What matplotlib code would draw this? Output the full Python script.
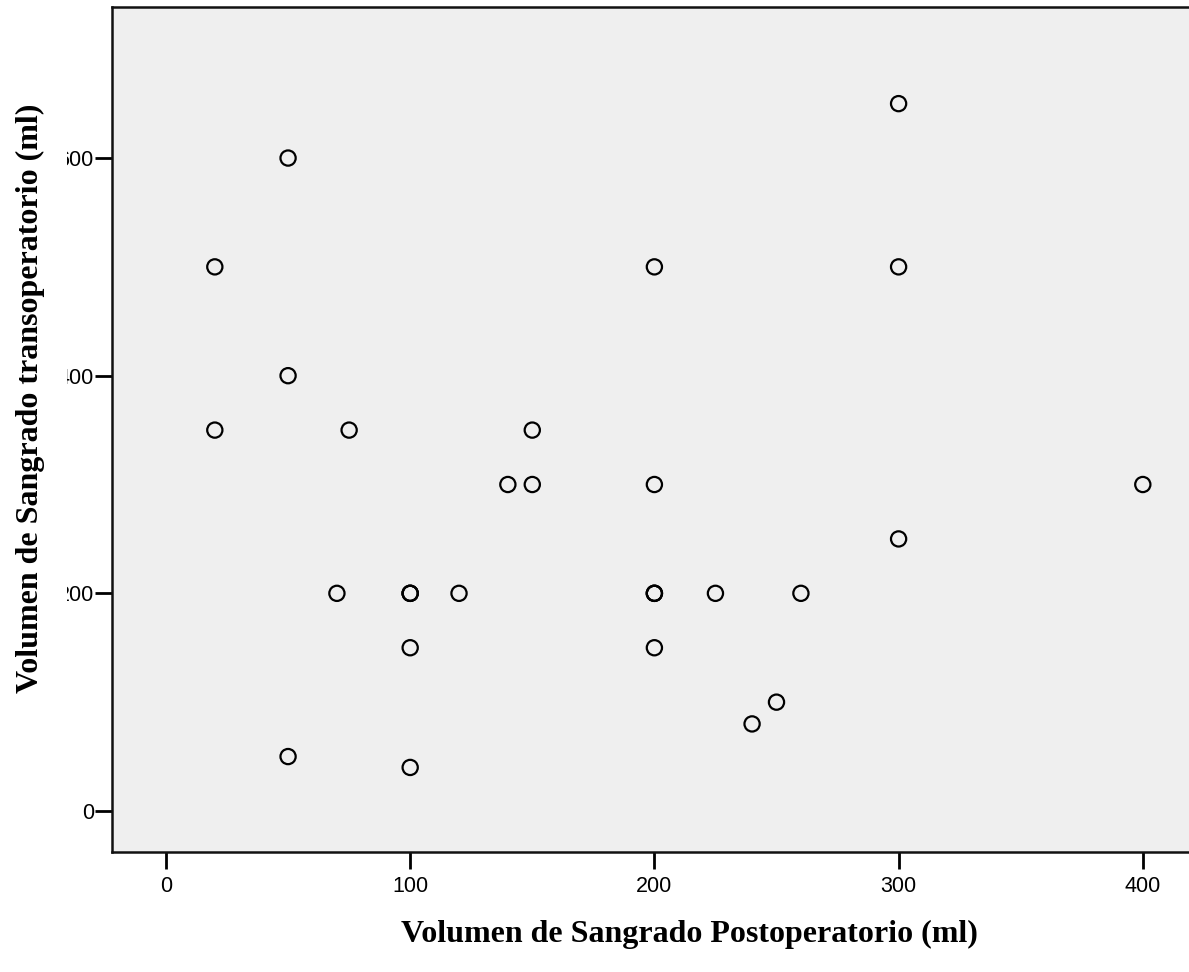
import matplotlib
matplotlib.use("Agg")
import matplotlib.pyplot as plt
from matplotlib.transforms import Bbox

# Postoperative (x) vs. intraoperative (y) bleeding volume, ml
postop = [300, 50, 20, 200, 300, 50, 20, 75, 150, 140, 150, 200, 400, 300,
          70, 100, 100, 100, 120, 200, 200, 200, 225, 260, 100, 200, 250, 240,
          50, 100]
transop = [650, 600, 500, 500, 500, 400, 350, 350, 350, 300, 300, 300, 300, 250,
           200, 200, 200, 200, 200, 200, 200, 200, 200, 200, 150, 150, 100, 80,
           50, 40]

x_ticks = [0, 100, 200, 300, 400]
y_ticks = [0, 200, 400, 600]

W, H = 1189, 972
fig = plt.figure(figsize=(W / 100, H / 100), dpi=100)
fig.patch.set_facecolor("white")

left_px, right_px, top_px, bottom_px = 112, 1219, 7, 852
ax = fig.add_axes([left_px / W, (H - bottom_px) / H,
                   (right_px - left_px) / W, (bottom_px - top_px) / H])
ax.set_facecolor("#efefef")

ax.scatter(postop, transop, s=120, facecolors="none", edgecolors="black",
           linewidths=1.6, zorder=3)

ax.set_xlim(-22.1, 431.2)
ax.set_ylim(-37.7, 738.8)
ax.set_xticks(x_ticks)
ax.set_yticks(y_ticks)
ax.set_xticklabels([str(v) for v in x_ticks], family="Liberation Sans", fontsize=15.5)
ax.set_yticklabels([str(v) for v in y_ticks], family="Liberation Sans", fontsize=15.5)
ax.tick_params(axis="both", direction="out", length=12, width=2, color="black")
ax.tick_params(axis="x", pad=5)
ax.tick_params(axis="y", pad=1)

for side in ("left", "bottom", "top", "right"):
    ax.spines[side].set_linewidth(1.8)
    ax.spines[side].set_color("#111111")

ax.set_xlabel("Volumen de Sangrado Postoperatorio (ml)", family="Liberation Serif",
              fontweight="bold", fontsize=23)
ax.set_ylabel("Volumen de Sangrado transoperatorio (ml)", family="Liberation Serif",
              fontweight="bold", fontsize=23)
ax.xaxis.set_label_coords((689 - left_px) / (right_px - left_px),
                          -(920 - bottom_px) / (bottom_px - top_px))
ax.yaxis.set_label_coords(-(112 - 45) / (right_px - left_px),
                          (bottom_px - 398) / (bottom_px - top_px))

# Tick labels on the y axis are cut off at a fixed left edge
clip = Bbox.from_extents(67, 0, W, H)
for tick in ax.yaxis.get_major_ticks():
    tick.label1.set_clip_box(clip)
    tick.label1.set_clip_on(True)

fig.savefig("out.png", dpi=100)
